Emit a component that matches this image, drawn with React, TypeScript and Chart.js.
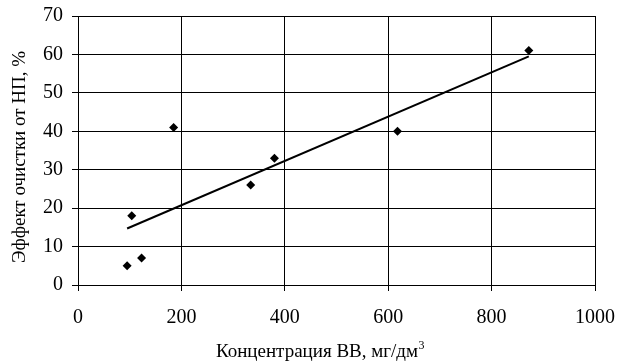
import React, { useEffect, useRef } from "react";
import { Chart, registerables } from "chart.js";

Chart.register(...registerables);

const xValues = [95, 104, 123, 185, 334, 380, 618, 872];
const yValues = [5, 18, 7, 41, 26, 33, 40, 61];
const trendX = [95, 872];
const trendY = [14.7, 59.5];
const xTicks = [0, 200, 400, 600, 800, 1000];
const xTitle = "Концентрация ВВ, мг/дм";
const xTitleSup = "3";
const yTitle = "Эффект очистки от НП, %";

const FONT = '"Liberation Serif", "Times New Roman", serif';

const titlesPlugin = {
  id: "titles",
  afterDraw(chart: any) {
    const ctx = chart.ctx;
    ctx.save();
    ctx.fillStyle = "#000";
    ctx.font = `19px ${FONT}`;
    ctx.textBaseline = "alphabetic";
    ctx.textAlign = "left";
    const w1 = ctx.measureText(xTitle).width;
    ctx.font = `12px ${FONT}`;
    const w2 = ctx.measureText(xTitleSup).width;
    const total = w1 + w2;
    const cx = 320;
    const startX = cx - total / 2;
    ctx.font = `19px ${FONT}`;
    ctx.fillText(xTitle, startX, 357);
    ctx.font = `12px ${FONT}`;
    ctx.fillText(xTitleSup, startX + w1 + 0.5, 349);
    // y title
    ctx.font = `19px ${FONT}`;
    ctx.translate(25, 157);
    ctx.rotate(-Math.PI / 2);
    ctx.textAlign = "center";
    ctx.fillText(yTitle, 0, 0);
    ctx.restore();
  },
};

export default function App() {
  const ref = useRef<HTMLCanvasElement>(null);
  useEffect(() => {
    if (!ref.current) return;
    const points = xValues.map((x, i) => ({ x, y: yValues[i] }));
    const trend = trendX.map((x, i) => ({ x, y: trendY[i] }));
    const chart = new Chart(ref.current, {
      type: "scatter",
      data: {
        datasets: [
          {
            label: "Эффект",
            data: points,
            pointStyle: "rectRot",
            pointRadius: 4.5,
            pointBackgroundColor: "#000",
            pointBorderColor: "#000",
            pointBorderWidth: 0,
            showLine: false,
          },
          {
            label: "Тренд",
            data: trend,
            showLine: true,
            borderColor: "#000",
            borderWidth: 2,
            pointRadius: 0,
            fill: false,
          },
        ],
      },
      plugins: [titlesPlugin],
      options: {
        animation: false,
        responsive: false,
        maintainAspectRatio: false,
        layout: { padding: { top: 16, right: 26, left: 0, bottom: 0 } },
        plugins: {
          legend: { display: false },
          tooltip: { enabled: false },
          title: { display: false },
        },
        scales: {
          x: {
            type: "linear",
            min: xTicks[0],
            max: xTicks[xTicks.length - 1],
            afterBuildTicks: (s: any) => {
              s.ticks = xTicks.map((v) => ({ value: v }));
            },
            ticks: {
              color: "#000",
              font: { family: FONT, size: 20 },
              padding: 15,
              maxRotation: 0,
              callback: (v: any) => String(v),
            },
            grid: { color: "#000", lineWidth: 1, tickLength: 6, drawTicks: true },
            border: { color: "#000", width: 1 },
            afterFit: (s: any) => {
              s.height = 78;
              s.paddingLeft = 0;
              s.paddingRight = 0;
            },
          },
          y: {
            type: "linear",
            min: 0,
            max: 70,
            ticks: {
              stepSize: 10,
              color: "#000",
              font: { family: FONT, size: 20 },
              padding: 9,
            },
            grid: { color: "#000", lineWidth: 1, tickLength: 6, drawTicks: true },
            border: { color: "#000", width: 1 },
            afterFit: (s: any) => {
              s.width = 78;
              s.paddingTop = 0;
              s.paddingBottom = 0;
            },
          },
        },
      },
    });
    return () => chart.destroy();
  }, []);
  return (
    <div style={{ position: "absolute", left: 0, top: 0, width: 621, height: 363, background: "#fff" }}>
      <canvas ref={ref} width={621} height={363} style={{ display: "block" }} />
    </div>
  );
}
